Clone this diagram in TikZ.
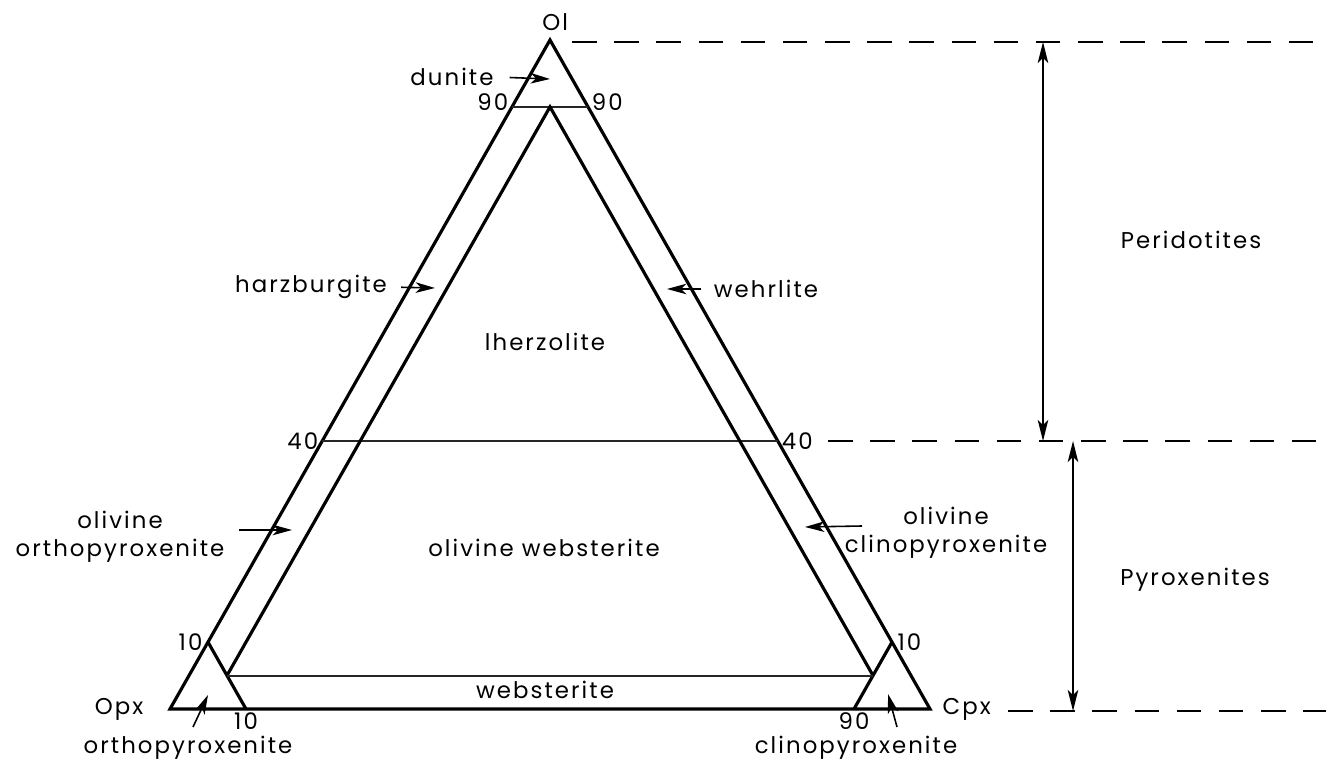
\documentclass[tikz,border=0pt]{standalone}
\usepackage{fontspec}
\setmainfont{Poppins}[LetterSpace=9]
\usetikzlibrary{arrows.meta, positioning, calc}
\tikzset{
  edge/.style={line width=1.8pt, line join=miter},
  divide/.style={line width=1.1pt, color=black!85},
  pointer/.style={-{Stealth[length=11pt, width=6pt, inset=3pt]}, line width=0.9pt},
  span/.style={{Stealth[length=12pt, width=6pt, inset=3pt]}-{Stealth[length=12pt, width=6pt, inset=3pt]}, line width=1pt},
  level/.style={line width=1.3pt, dash pattern=on 14pt off 10pt},
  lbl/.style={font=\fontsize{13}{16}\selectfont, inner sep=1pt, align=center},
  num/.style={font=\fontsize{13}{15}\selectfont, inner sep=1pt}
}
\begin{document}
\begin{tikzpicture}[x=0.02cm, y=-0.02cm]
  \useasboundingbox (0,0) rectangle (1326,766);

  % Corners of the ternary
  \coordinate (ol) at (550,40);
  \coordinate (opx) at (170,709);
  \coordinate (cpx) at (930,709);

  % Points on the edges
  \coordinate (l90) at (barycentric cs:ol=0.9,opx=0.1);
  \coordinate (r90) at (barycentric cs:ol=0.9,cpx=0.1);
  \coordinate (l40) at (barycentric cs:ol=0.4,opx=0.6);
  \coordinate (r40) at (barycentric cs:ol=0.4,cpx=0.6);
  \coordinate (l10) at (barycentric cs:ol=0.1,opx=0.9);
  \coordinate (b10) at (barycentric cs:opx=0.9,cpx=0.1);
  \coordinate (r10) at (barycentric cs:ol=0.1,cpx=0.9);
  \coordinate (b90) at (barycentric cs:opx=0.1,cpx=0.9);

  % Inner triangle (5% lines)
  \coordinate (itop) at (barycentric cs:ol=0.9,opx=0.05,cpx=0.05);
  \coordinate (ileft) at (barycentric cs:ol=0.05,opx=0.9,cpx=0.05);
  \coordinate (iright) at (barycentric cs:ol=0.05,opx=0.05,cpx=0.9);

  % Field boundaries
  \draw[edge] (ol) -- (opx) -- (cpx) -- cycle;
  \draw[divide] (l90) -- (r90);
  \draw[divide] (l40) -- (r40);
  \draw[edge] (l10) -- (b10);
  \draw[edge] (r10) -- (b90);
  \draw[edge] (ileft) -- (itop) -- (iright);
  \draw[divide] (ileft) -- (iright);

  % Corner names
  \node[lbl, above=4pt of ol, xshift=3pt] (olname) {Ol};
  \node[lbl, left=14pt of opx] (opxname) {Opx};
  \node[lbl, right=6pt of cpx] (cpxname) {Cpx};

  % Scale numbers
  \node[num, left=1pt of l90, yshift=3pt] (n90l) {90};
  \node[num, right=1pt of r90, yshift=3pt] (n90r) {90};
  \node[num, left=1pt of l40] (n40l) {40};
  \node[num, right=1pt of r40] (n40r) {40};
  \node[num, left=2pt of l10] (n10l) {10};
  \node[num, right=2pt of r10] (n10r) {10};
  \node[num, below=1pt of b10] (n10b) {10};
  \node[num, below=1pt of b90] (n90b) {90};

  % Field names
  \node[lbl] (dun) at (452,77) {dunite};
  \node[lbl] (harz) at (311,287) {harzburgite};
  \node[lbl] (wehr) at (766,289) {wehrlite};
  \node[lbl] (lherz) at (545,342) {lherzolite};
  \node[lbl] (oopx) at (120,537) {olivine\\orthopyroxenite};
  \node[lbl] (oweb) at (544,548) {olivine websterite};
  \node[lbl] (ocpx) at (946,533) {olivine\\clinopyroxenite};
  \node[lbl] (web) at (545,690) {websterite};
  \node[lbl] (orpx) at (188,748) {orthopyroxenite};
  \node[lbl] (clpx) at (856,748) {clinopyroxenite};

  % Pointer tips
  \coordinate (dunpt) at (550,79);
  \coordinate (harzpt) at (435,288);
  \coordinate (wehrpt) at (667,289);
  \coordinate (oopxpt) at (292,530);
  \coordinate (ocpxtail) at (862,526);
  \coordinate (ocpxpt) at (805,527);
  \coordinate (orpxtail) at (193,727);
  \coordinate (orpxpt) at (208,695);
  \coordinate (clpxtail) at (897,727);
  \coordinate (clpxpt) at (888,694);

  \draw[pointer, shorten <=8pt] (dun.east) -- (dunpt);
  \draw[pointer, shorten <=7pt] (harz.east) -- (harzpt);
  \draw[pointer, shorten <=6pt] (wehr.west) -- (wehrpt);
  \draw[pointer, shorten <=7pt] (oopx.east |- oopxpt) -- (oopxpt);
  \draw[pointer] (ocpxtail) -- (ocpxpt);
  \draw[pointer] (orpxtail) -- (orpxpt);
  \draw[pointer] (clpxtail) -- (clpxpt);

  % Rock groups
  \coordinate (pertop) at (1043,42);
  \coordinate (perbot) at (1043,441);
  \coordinate (pyrtop) at (1073,441);
  \coordinate (pyrbot) at (1073,711);
  \draw[span] (pertop) -- (perbot);
  \draw[span] (pyrtop) -- (pyrbot);
  \node[lbl] (peri) at (1191,240) {Peridotites};
  \node[lbl] (pyro) at (1195,580) {Pyroxenites};

  % Dashed levels
  \coordinate (lev100) at (572,42);
  \coordinate (lev40) at (828,441);
  \coordinate (lev0) at (1008,711);
  \draw[level] (lev100) -- (1326,42);
  \draw[level] (lev40) -- (1326,441);
  \draw[level] (lev0) -- (1326,711);
\end{tikzpicture}
\end{document}
